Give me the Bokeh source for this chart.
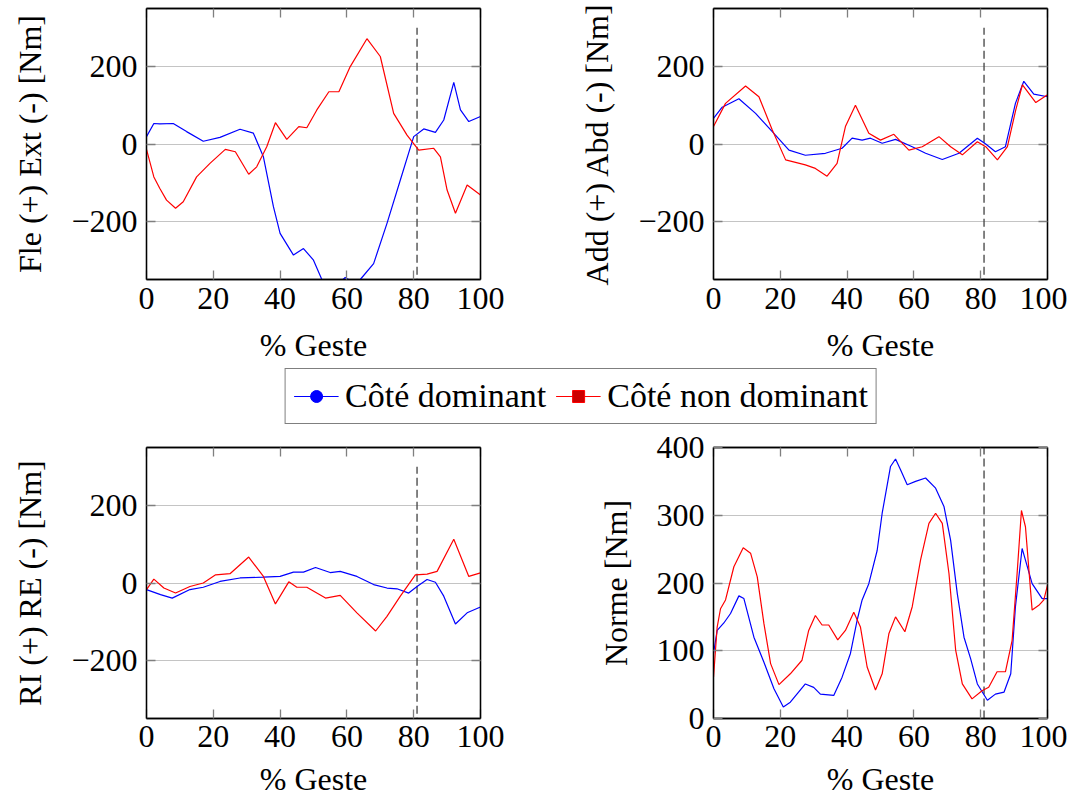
from bokeh.plotting import figure
from bokeh.layouts import column, row
from bokeh.models import (Range1d, FixedTicker, LinearAxis, Legend, LegendItem)
from bokeh.embed import file_html
from bokeh.resources import INLINE

# ---------------- data ----------------
pct_ticks = [0, 20, 40, 60, 80, 100]
split_pct = 81  # dashed vertical marker (% Geste)

# Panel 1 : Fle (+) Ext (-)
fe_dom_x = [0, 2.2, 4, 8, 12, 17, 22, 28, 32, 35, 38, 40, 44, 47, 50, 52.6, 55, 57.5, 59.5, 62, 64, 68, 72, 76, 80, 83, 86.5, 89, 92, 94, 96.5, 100]
fe_dom_y = [19, 53, 52, 53, 32, 7, 17, 38, 28, -33, -162, -231, -287, -270, -300, -352, -380, -360, -345, -358, -350, -309, -205, -93, 19, 39, 30, 62, 159, 88, 58, 71]
fe_nd_x = [0, 2.2, 4, 6, 8.7, 11, 15, 19, 23.6, 26.6, 30.6, 33, 36, 38.6, 42, 45.6, 48, 51, 54.6, 57.6, 61, 66, 70, 74, 78, 81.5, 86, 88, 90, 92.5, 96, 100]
fe_nd_y = [-14, -85, -115, -145, -166, -149, -85, -50, -14, -20, -78, -59, -7, 55, 12, 45, 42, 88, 135, 135, 200, 272, 226, 79, 23, -16, -11, -33, -119, -179, -106, -132]

# Panel 2 : Add (+) Abd (-)
aa_dom_x = [0, 2.6, 7.6, 12.6, 17.6, 22.6, 27.5, 33.5, 38.5, 41.5, 44.5, 47, 50.5, 54.5, 59.5, 63.5, 68.5, 73.5, 79, 81.5, 84.4, 87.4, 90.4, 92.9, 95.9, 100]
aa_dom_y = [66, 95, 117, 79, 32, -16, -29, -24, -11, 15, 10, 15, 2, 12, -7, -24, -40, -24, 15, 0, -20, -7, 105, 162, 129, 122]
aa_nd_x = [0, 3.6, 9.6, 13.6, 17.6, 21.6, 27.5, 30.5, 34, 37, 39.5, 42.5, 46.5, 50, 54, 58.5, 62.5, 67.5, 71, 74.5, 79, 81.5, 85, 88, 90.5, 92.5, 96.5, 100]
aa_nd_y = [45, 105, 150, 122, 36, -41, -54, -63, -83, -50, 45, 100, 28, 10, 25, -16, -7, 19, -7, -28, 6, -7, -41, -7, 88, 153, 107, 127]

# Panel 3 : RI (+) RE (-)
rr_dom_x = [0, 4.2, 7.7, 13, 17, 22, 28, 35, 40, 44, 47, 50.6, 55, 58, 63, 68, 72, 75, 78.5, 81, 84, 86.5, 89, 92.5, 96, 100]
rr_dom_y = [-17, -30, -39, -17, -11, 4, 13, 15, 17, 28, 28, 40, 27, 30, 17, -4, -13, -15, -26, -9, 9, 2, -34, -106, -77, -62]
rr_nd_x = [0, 2.2, 5.2, 8.7, 13, 17, 20.7, 25, 30.6, 35, 38.6, 42.6, 45, 48, 53.6, 58, 63, 68.6, 72, 76, 80.5, 84, 87, 92, 96.5, 100]
rr_nd_y = [-17, 10, -13, -26, -9, 0, 21, 24, 67, 17, -54, 3, -11, -11, -39, -32, -77, -124, -86, -34, 21, 23, 30, 113, 17, 26]

# Panel 4 : Norme
nm_dom_x = [0, 1.1, 3.1, 5.1, 7.6, 9.1, 12.1, 15.1, 18.1, 20.9, 23, 27.5, 30, 32, 36, 38.5, 41, 43, 44.5, 46.5, 49, 50.5, 53, 54.5, 56, 58, 60.5, 63.5, 66.5, 69, 71, 73, 75, 77, 79, 82, 84.4, 87, 89, 90.4, 92.4, 95.4, 98.4, 100]
nm_dom_y = [96, 130, 141, 155, 181, 177, 120, 83, 44, 17, 24, 51, 46, 36, 34, 61, 96, 145, 175, 199, 248, 303, 372, 383, 367, 345, 350, 355, 340, 313, 263, 184, 120, 88, 51, 27, 36, 39, 66, 165, 251, 199, 177, 177]
nm_nd_x = [0, 1.1, 2.1, 3.6, 6.1, 8.9, 11.1, 13.1, 15.1, 17.1, 19.6, 23, 26.5, 28.5, 30.5, 32.5, 34.5, 37.2, 39.5, 42, 44, 46, 48.5, 50.5, 52.5, 54.5, 57.3, 59.5, 62, 64.5, 66.5, 68.5, 70.5, 72.5, 74.5, 77.4, 80.4, 82.4, 84.9, 87.4, 89.4, 90.9, 92.2, 93.4, 95.4, 97.4, 98.9, 100]
nm_nd_y = [61, 135, 162, 175, 224, 252, 244, 209, 140, 81, 50, 66, 86, 130, 152, 138, 138, 116, 130, 157, 135, 76, 42, 66, 125, 150, 128, 165, 234, 288, 303, 288, 214, 101, 51, 29, 41, 46, 69, 69, 115, 214, 307, 283, 160, 167, 175, 197]

labels = ["Côté dominant", "Côté non dominant"]
ylabels = ["Fle (+) Ext (-) [Nm]", "Add (+) Abd (-) [Nm]", "RI (+) RE (-) [Nm]", "Norme [Nm]"]
sym_ticks = [-200, 0, 200]
norm_ticks = [0, 100, 200, 300, 400]
sym_range = (-350, 350)
norm_range = (0, 400)
split_span_sym = (-400, 300)
split_span_norm = (0, 400)

# ---------------- style ----------------
FONT = "'Liberation Serif', 'Times New Roman', serif"
FS_TICK = "32px"
FS_LABEL = "32px"
FS_LEG = "34px"
BLUE = "#0000ff"
RED = "#ff0000"
TICK_C = "#7f7f7f"
GRID_C = "#c4c4c4"


def style_axis(ax, labels_on=True, tick_standoff=8, label_standoff=15):
    ax.major_tick_in = 9
    ax.major_tick_out = 0
    ax.minor_tick_in = 0
    ax.minor_tick_out = 0
    ax.major_tick_line_color = TICK_C
    ax.major_tick_line_width = 1.3
    ax.axis_line_color = "black"
    ax.axis_line_width = 1.3
    ax.major_label_text_font = FONT
    ax.axis_label_text_font = FONT
    ax.axis_label_text_font_style = "normal"
    ax.axis_label_text_font_size = FS_LABEL
    ax.axis_label_text_color = "black"
    if labels_on:
        ax.major_label_text_color = "black"
        ax.major_label_text_font_size = FS_TICK
        ax.major_label_standoff = tick_standoff
        ax.axis_label_standoff = label_standoff
    else:
        # tick-only mirror axis: no labels drawn
        ax.major_label_text_color = None
        ax.major_label_text_font_size = "0px"
        ax.major_label_standoff = 0


def make_panel(xd, yd, xn, yn, ylabel, yrange, yticks, split_span,
               border_left, border_right, border_top, border_bottom,
               x_tick_standoff, x_label_standoff):
    p = figure(frame_width=334, frame_height=271,
               min_border_left=border_left, min_border_right=border_right,
               min_border_top=border_top, min_border_bottom=border_bottom,
               x_range=Range1d(0, 100), y_range=Range1d(*yrange),
               toolbar_location=None, output_backend="svg")
    p.outline_line_color = "black"
    p.outline_line_width = 1.3
    p.background_fill_color = "white"
    p.border_fill_color = "white"

    p.xgrid.visible = False
    p.ygrid.grid_line_color = GRID_C
    p.ygrid.grid_line_width = 1.2
    p.ygrid.ticker = FixedTicker(ticks=yticks)

    p.xaxis.ticker = FixedTicker(ticks=pct_ticks)
    p.yaxis.ticker = FixedTicker(ticks=yticks)
    p.yaxis.major_label_overrides = {t: (("\u2212" + str(-t)) if t < 0 else str(t)) for t in yticks}
    p.xaxis.axis_label = "% Geste"
    p.yaxis.axis_label = ylabel
    style_axis(p.xaxis[0], tick_standoff=x_tick_standoff, label_standoff=x_label_standoff)
    style_axis(p.yaxis[0], tick_standoff=9, label_standoff=20)

    top = LinearAxis(ticker=FixedTicker(ticks=pct_ticks))
    style_axis(top, labels_on=False)
    p.add_layout(top, "above")
    right = LinearAxis(ticker=FixedTicker(ticks=yticks))
    style_axis(right, labels_on=False)
    p.add_layout(right, "right")

    p.line([split_pct, split_pct], list(split_span), line_color="#404040",
           line_width=1.3, line_dash="8 4")
    p.line(xd, yd, line_color=BLUE, line_width=1.2)
    p.line(xn, yn, line_color=RED, line_width=1.2)
    return p


f1 = make_panel(fe_dom_x, fe_dom_y, fe_nd_x, fe_nd_y, ylabels[0], sym_range, sym_ticks,
                split_span_sym, 146, 88, 8, 80, 8, 15)
f2 = make_panel(aa_dom_x, aa_dom_y, aa_nd_x, aa_nd_y, ylabels[1], sym_range, sym_ticks,
                split_span_sym, 145, 20, 8, 80, 8, 15)
f3 = make_panel(rr_dom_x, rr_dom_y, rr_nd_x, rr_nd_y, ylabels[2], sym_range, sym_ticks,
                split_span_sym, 146, 88, 20, 70, 7, 11)
f4 = make_panel(nm_dom_x, nm_dom_y, nm_nd_x, nm_nd_y, ylabels[3], norm_range, norm_ticks,
                split_span_norm, 145, 20, 20, 70, 7, 11)

# ---------------- legend strip ----------------
lf = figure(width=1075, height=62, x_range=Range1d(0, 1), y_range=Range1d(0, 1),
            x_axis_type=None, y_axis_type=None, toolbar_location=None,
            output_backend="svg", min_border=0, min_border_left=86)
lf.outline_line_color = None
lf.xgrid.visible = False
lf.ygrid.visible = False
l1 = lf.line([5, 6], [5, 5], line_color=BLUE, line_width=1.2)
m1 = lf.scatter([5], [5], marker="circle", size=11, fill_color="#0000ff", line_color=BLUE)
l2 = lf.line([5, 6], [5, 5], line_color=RED, line_width=1.2)
m2 = lf.scatter([5], [5], marker="square", size=10, fill_color="#cc0000", line_color=RED)
legend = Legend(items=[LegendItem(label=labels[0], renderers=[l1, m1]),
                       LegendItem(label=labels[1], renderers=[l2, m2])],
                orientation="horizontal", location="center")
legend.label_text_font = FONT
legend.label_text_font_size = FS_LEG
legend.label_text_color = "black"
legend.border_line_color = "black"
legend.border_line_width = 1.3
legend.glyph_width = 45
legend.glyph_height = 30
legend.label_standoff = 7
legend.spacing = 9
legend.padding = 8
legend.margin = 0
legend.label_height = 30
lf.add_layout(legend, "center")

layout = column(row(f1, f2), lf, row(f3, f4))

with open("out.html", "w") as fh:
    fh.write(file_html(layout, INLINE))
